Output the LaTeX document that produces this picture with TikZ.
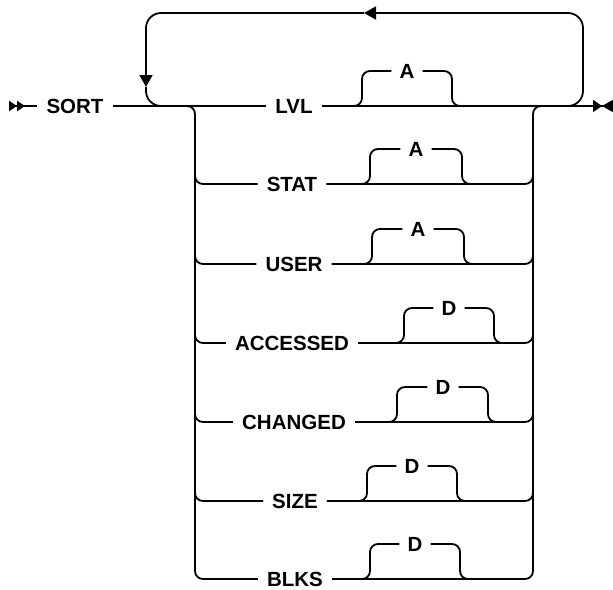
\documentclass[tikz,border=0pt]{standalone}
\usepackage{fontspec}
\setmainfont{Liberation Sans}
\usetikzlibrary{arrows.meta,positioning}

\begin{document}
\begin{tikzpicture}[x=1pt, y=-1pt,
    kw/.style={inner xsep=9pt, inner ysep=0pt, font=\fontsize{20.5}{24}\selectfont\bfseries},
    dflt/.style={inner xsep=8pt, inner ysep=0pt, font=\fontsize{20.5}{24}\selectfont\bfseries},
    track/.style={line width=1.8pt, line join=round},
    trackbend/.style={track, rounded corners=8pt},
    loopline/.style={track, rounded corners=15pt},
    headed/.style={-{Triangle[length=12pt, width=13pt]}}
  ]
    \useasboundingbox (0,0) rectangle (613,589);

    % keywords
    \node[kw] (sort) at (75,106) {SORT};
    \node[kw] (lvl) at (294,106) {LVL};
    \node[kw] (stat) at (292,184) {STAT};
    \node[kw] (user) at (294,264) {USER};
    \node[kw] (accessed) at (292,343) {ACCESSED};
    \node[kw] (changed) at (294,422) {CHANGED};
    \node[kw] (size) at (295,501) {SIZE};
    \node[kw] (blks) at (295,579) {BLKS};

    % defaults above the lines
    \node[dflt] (lvld) at (407,71) {A};
    \node[dflt] (statd) at (416,149) {A};
    \node[dflt] (userd) at (418,229) {A};
    \node[dflt] (accessedd) at (449,308) {D};
    \node[dflt] (changedd) at (443,387) {D};
    \node[dflt] (sized) at (412,466) {D};
    \node[dflt] (blksd) at (415,544) {D};

    \coordinate (start) at (9,106);
    \coordinate (term) at (613,106);
    \coordinate (ltop) at (195,106);
    \coordinate (lbot) at (195,579);
    \coordinate (rtop) at (533,106);
    \coordinate (rbot) at (533,579);
    \coordinate (lpL) at (146,106);
    \coordinate (lpR) at (583,106);
    \coordinate (lpTL) at (146,13);
    \coordinate (lpTR) at (583,13);
    \coordinate (lpA) at (364,13);
    \coordinate (lpB) at (146,87);

    % main line
    \draw[track, {Triangle[reversed, length=8pt, width=10pt] Triangle[reversed, length=8pt, width=10pt]}-] (start) -- (sort.west);
    \draw[track] (sort.east) -- (lvl.west);
    \draw[track, -{Triangle[length=9pt, width=12pt, sep=0pt] Triangle[reversed, length=11pt, width=12pt]}] (lvl.east) -- (term);

    % repeat loop
    \draw[loopline, headed] ([xshift=-20pt]lpR) -- (lpR) -- (lpTR) -- (lpA);
    \draw[loopline, headed] (lpA) -- (lpTL) -- (lpB);
    \draw[loopline] (lpB) -- (lpL) -- ([xshift=20pt]lpL);

    % rails
    \draw[trackbend] ([xshift=-12pt]ltop) -- (ltop) -- (lbot) -- (blks.west);
    \draw[trackbend] (blks.east) -- (rbot) -- (rtop) -- ([xshift=12pt]rtop);
    \draw[trackbend] ([yshift=14pt]ltop |- stat) |- (stat.west);
    \draw[trackbend] ([yshift=14pt]ltop |- user) |- (user.west);
    \draw[trackbend] ([yshift=14pt]ltop |- accessed) |- (accessed.west);
    \draw[trackbend] ([yshift=14pt]ltop |- changed) |- (changed.west);
    \draw[trackbend] ([yshift=14pt]ltop |- size) |- (size.west);
    \draw[trackbend] (stat.east) -| ([yshift=14pt]rtop |- stat);
    \draw[trackbend] (user.east) -| ([yshift=14pt]rtop |- user);
    \draw[trackbend] (accessed.east) -| ([yshift=14pt]rtop |- accessed);
    \draw[trackbend] (changed.east) -| ([yshift=14pt]rtop |- changed);
    \draw[trackbend] (size.east) -| ([yshift=14pt]rtop |- size);

    % default brackets
    \draw[trackbend] (lvld.west) -| ([xshift=-45pt]lvld.center |- lvl) -- ++(-12,0);
    \draw[trackbend] (lvld.east) -| ([xshift=45pt]lvld.center |- lvl) -- ++(12,0);
    \draw[trackbend] (statd.west) -| ([xshift=-46pt]statd.center |- stat) -- ++(-12,0);
    \draw[trackbend] (statd.east) -| ([xshift=46pt]statd.center |- stat) -- ++(12,0);
    \draw[trackbend] (userd.west) -| ([xshift=-46pt]userd.center |- user) -- ++(-12,0);
    \draw[trackbend] (userd.east) -| ([xshift=46pt]userd.center |- user) -- ++(12,0);
    \draw[trackbend] (accessedd.west) -| ([xshift=-45pt]accessedd.center |- accessed) -- ++(-12,0);
    \draw[trackbend] (accessedd.east) -| ([xshift=45pt]accessedd.center |- accessed) -- ++(12,0);
    \draw[trackbend] (changedd.west) -| ([xshift=-46pt]changedd.center |- changed) -- ++(-12,0);
    \draw[trackbend] (changedd.east) -| ([xshift=45pt]changedd.center |- changed) -- ++(12,0);
    \draw[trackbend] (sized.west) -| ([xshift=-45pt]sized.center |- size) -- ++(-12,0);
    \draw[trackbend] (sized.east) -| ([xshift=45pt]sized.center |- size) -- ++(12,0);
    \draw[trackbend] (blksd.west) -| ([xshift=-45pt]blksd.center |- blks) -- ++(-12,0);
    \draw[trackbend] (blksd.east) -| ([xshift=45pt]blksd.center |- blks) -- ++(12,0);
  \end{tikzpicture}
\end{document}
